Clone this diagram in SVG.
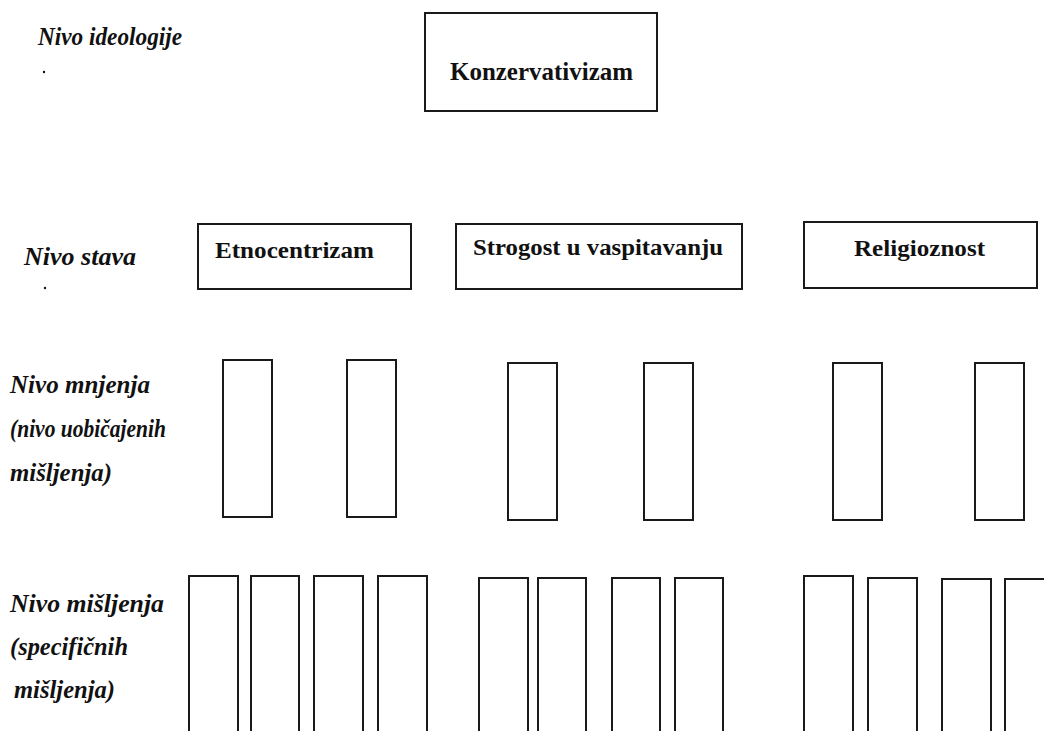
<svg xmlns="http://www.w3.org/2000/svg" width="1044" height="731" viewBox="0 0 1044 731">
<style>
.box{fill:#fff;stroke:#1a1a1a;stroke-width:2}
.lbl{font-family:"Liberation Serif","Times New Roman",serif;font-style:italic;font-weight:bold;fill:#111}
.ttl{font-family:"Liberation Serif","Times New Roman",serif;font-weight:bold;fill:#111}
</style>
<rect width="1044" height="731" fill="#fff"/>
<g id="labels" font-size="25">
<text class="lbl" x="38" y="45" textLength="144" lengthAdjust="spacingAndGlyphs">Nivo ideologije</text>
<circle cx="44" cy="72" r="1.2" fill="#111"/>
<text class="lbl" x="24" y="265" textLength="112" lengthAdjust="spacingAndGlyphs">Nivo stava</text>
<circle cx="45" cy="288" r="1.2" fill="#111"/>
<text class="lbl" x="10" y="393" textLength="140" lengthAdjust="spacingAndGlyphs">Nivo mnjenja</text>
<text class="lbl" x="10" y="437" textLength="156" lengthAdjust="spacingAndGlyphs">(nivo uobičajenih</text>
<text class="lbl" x="10" y="481" textLength="102" lengthAdjust="spacingAndGlyphs">mišljenja)</text>
<text class="lbl" x="10" y="612" textLength="154" lengthAdjust="spacingAndGlyphs">Nivo mišljenja</text>
<text class="lbl" x="10" y="655" textLength="118" lengthAdjust="spacingAndGlyphs">(specifičnih</text>
<text class="lbl" x="14" y="698" textLength="101" lengthAdjust="spacingAndGlyphs">mišljenja)</text>
</g>
<g id="n-konzervativizam" font-size="25">
<rect class="box" x="425" y="13" width="232" height="98"/>
<text class="ttl" x="450" y="80" textLength="183" lengthAdjust="spacingAndGlyphs">Konzervativizam</text>
</g>
<g id="n-etnocentrizam" font-size="24">
<rect class="box" x="198" y="224" width="213" height="65"/>
<text class="ttl" x="215" y="258" textLength="159" lengthAdjust="spacingAndGlyphs">Etnocentrizam</text>
</g>
<g id="n-strogost" font-size="23">
<rect class="box" x="456" y="224" width="286" height="65"/>
<text class="ttl" x="473" y="255" textLength="250" lengthAdjust="spacingAndGlyphs">Strogost u vaspitavanju</text>
</g>
<g id="n-religioznost" font-size="24">
<rect class="box" x="804" y="222" width="233" height="66"/>
<text class="ttl" x="854" y="256" textLength="131" lengthAdjust="spacingAndGlyphs">Religioznost</text>
</g>
<g id="n-mnjenja">
<rect class="box" x="223" y="360" width="49" height="157"/>
<rect class="box" x="347" y="360" width="49" height="157"/>
<rect class="box" x="508" y="363" width="49" height="157"/>
<rect class="box" x="644" y="363" width="49" height="157"/>
<rect class="box" x="833" y="363" width="49" height="157"/>
<rect class="box" x="975" y="363" width="49" height="157"/>
</g>
<g id="n-misljenja">
<rect class="box" x="189" y="576" width="49" height="160"/>
<rect class="box" x="251" y="576" width="48" height="160"/>
<rect class="box" x="314" y="576" width="49" height="160"/>
<rect class="box" x="378" y="576" width="49" height="160"/>
<rect class="box" x="479" y="578" width="49" height="160"/>
<rect class="box" x="538" y="578" width="48" height="160"/>
<rect class="box" x="612" y="578" width="48" height="160"/>
<rect class="box" x="675" y="578" width="48" height="160"/>
<rect class="box" x="804" y="576" width="49" height="160"/>
<rect class="box" x="868" y="578" width="49" height="160"/>
<rect class="box" x="942" y="579" width="49" height="160"/>
<rect class="box" x="1005" y="579" width="49" height="160"/>
</g>
<g id="connectors"></g>
</svg>
